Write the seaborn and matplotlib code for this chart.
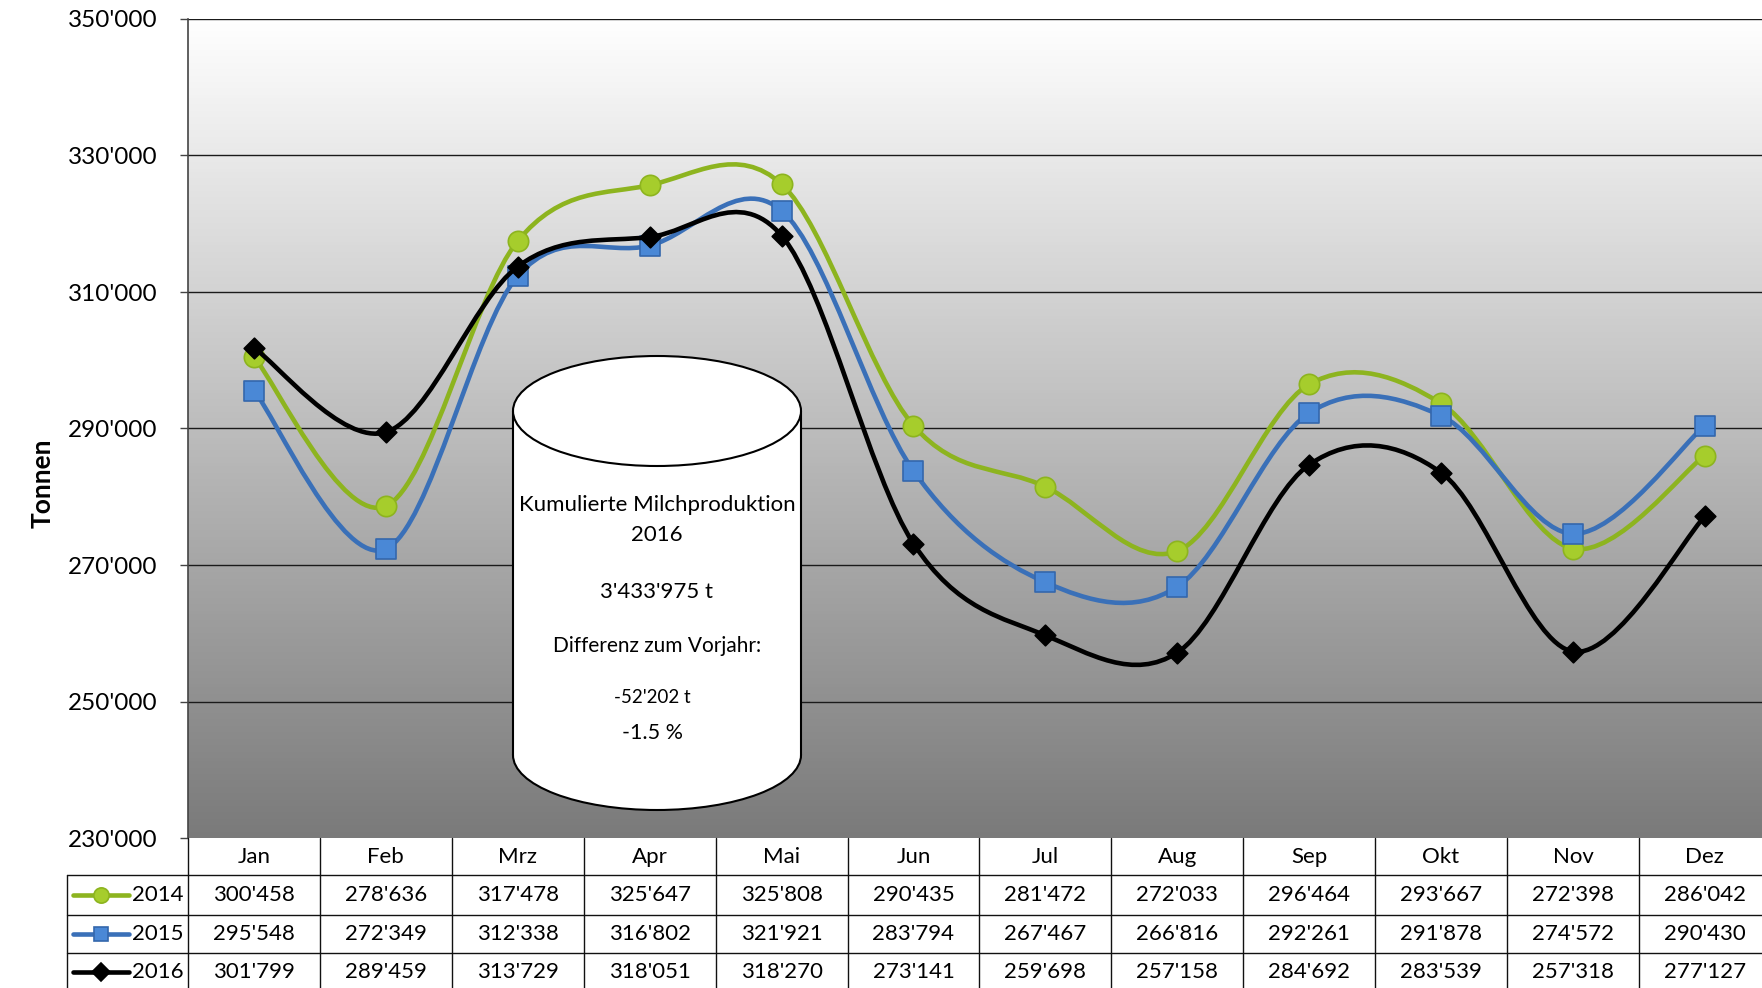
import numpy as np
import pandas as pd
import matplotlib.pyplot as plt
import seaborn as sns
from matplotlib.path import Path
from matplotlib.patches import PathPatch, Ellipse, Rectangle
from matplotlib.colors import LinearSegmentedColormap
from matplotlib.ticker import FuncFormatter

# Daten: Milchproduktion pro Monat (Tonnen)
monate = ['Jan', 'Feb', 'Mrz', 'Apr', 'Mai', 'Jun', 'Jul', 'Aug', 'Sep', 'Okt', 'Nov', 'Dez']
jahre = ['2014', '2015', '2016']
werte_2014 = [300458, 278636, 317478, 325647, 325808, 290435, 281472, 272033, 296464, 293667, 272398, 286042]
werte_2015 = [295548, 272349, 312338, 316802, 321921, 283794, 267467, 266816, 292261, 291878, 274572, 290430]
werte_2016 = [301799, 289459, 313729, 318051, 318270, 273141, 259698, 257158, 284692, 283539, 257318, 277127]
y_ticks = [230000, 250000, 270000, 290000, 310000, 330000, 350000]

box_zeilen = ['Kumulierte Milchproduktion', '2016', "3'433'975 t", 'Differenz zum Vorjahr:', "-52'202 t", '-1.5 %']

df = pd.DataFrame({
    'Monat': monate * 3,
    'pos': list(range(12)) * 3,
    'Jahr': [j for j in jahre for _ in monate],
    'Wert': werte_2014 + werte_2015 + werte_2016,
})

sns.set_theme(style='white')
plt.rcParams['font.family'] = ['Lato', 'DejaVu Sans']

def fmt(v):
    return f"{int(v):,}".replace(',', "'")

# Stil pro Jahr: Linie, Markerfüllung, Markerrand, Marker, Grösse
stil = {
    '2014': dict(line='#8DB41F', fill='#A6CD2C', edge='#8DB41F', marker='o', s=215, ms=11),
    '2015': dict(line='#3A70B8', fill='#4A88D6', edge='#3467AC', marker='s', s=190, ms=10.5),
    '2016': dict(line='#000000', fill='#000000', edge='#000000', marker='D', s=110, ms=9),
}

W, H = 1762, 988
L, COL_W, TOP, BOT = 188, 131.9, 19, 838

fig = plt.figure(figsize=(W / 100, H / 100), dpi=100)
ax = fig.add_axes([L / W, (H - BOT) / H, 12 * COL_W / W, (BOT - TOP) / H])

# Hintergrund mit Verlauf weiss -> grau
grau = LinearSegmentedColormap.from_list('g', ['#ffffff', '#7a7a7a'])
ax.imshow(np.linspace(0, 1, 256).reshape(-1, 1), cmap=grau, aspect='auto',
          extent=(-0.5, 11.5, y_ticks[0], y_ticks[-1]), zorder=0)

ax.set_xlim(-0.5, 11.5)
ax.set_ylim(y_ticks[0], y_ticks[-1])
ax.set_yticks(y_ticks)
ax.yaxis.set_major_formatter(FuncFormatter(lambda v, p: fmt(v)))
ax.set_xticks([])
for yt in y_ticks[1:]:
    ax.axhline(yt, color='#1a1a1a', lw=1.0, zorder=1)
ax.tick_params(axis='y', left=True, length=6, width=1, color='#444444', pad=16,
               labelsize=17.5, labelcolor='#000000')
for side in ['right', 'bottom', 'top']:
    ax.spines[side].set_visible(False)
ax.spines['left'].set_color('#444444')
ax.spines['left'].set_linewidth(1.2)


def glatter_pfad(x, y):
    # Bezier-Glättung durch die Datenpunkte (Catmull-Rom)
    p = np.column_stack([x, y]).astype(float)
    n = len(p)
    verts = [p[0]]
    codes = [Path.MOVETO]
    for i in range(n - 1):
        p0 = p[i - 1] if i > 0 else p[i]
        p1, p2 = p[i], p[i + 1]
        p3 = p[i + 2] if i + 2 < n else p[i + 1]
        verts += [p1 + (p2 - p0) / 6, p2 - (p3 - p1) / 6, p2]
        codes += [Path.CURVE4] * 3
    return Path(verts, codes)


z = 3
for jahr in jahre:
    st = stil[jahr]
    d = df[df['Jahr'] == jahr]
    ax.add_patch(PathPatch(glatter_pfad(d['pos'], d['Wert']), facecolor='none',
                           edgecolor=st['line'], lw=3.3, capstyle='round',
                           joinstyle='round', zorder=z))
    sns.scatterplot(data=d, x='pos', y='Wert', marker=st['marker'], s=st['s'],
                    color=st['fill'], edgecolor=st['edge'], linewidth=1.2,
                    ax=ax, zorder=z + 1, legend=False)
    z += 2
ax.set_xlabel('')
ax.set_ylabel('')

fig.text(43 / W, 1 - 483 / H, 'Tonnen', rotation=90, ha='center', va='center',
         fontsize=19, fontweight='bold', color='#000000')

# Overlay in Pixelkoordinaten: Tabelle und Zylinder
ov = fig.add_axes([0, 0, 1, 1], zorder=10)
ov.set_xlim(0, W)
ov.set_ylim(H, 0)
ov.axis('off')
ov.patch.set_alpha(0)

# Zylinder
cx, bw, eh = 657, 288, 110
y_top, y_bot = 411, 755
ov.add_patch(Ellipse((cx, y_bot), bw, eh, facecolor='white', edgecolor='black', lw=1.5, zorder=1))
ov.add_patch(Rectangle((cx - bw / 2, y_top), bw, y_bot - y_top, facecolor='white', edgecolor='none', zorder=2))
ov.plot([cx - bw / 2, cx - bw / 2], [y_top, y_bot], color='black', lw=1.5, zorder=3)
ov.plot([cx + bw / 2, cx + bw / 2], [y_top, y_bot], color='black', lw=1.5, zorder=3)
ov.add_patch(Ellipse((cx, y_top), bw, eh, facecolor='white', edgecolor='black', lw=1.5, zorder=4))
box_y = [505, 535, 592, 646, 697, 733]
box_x = [cx, cx, cx, cx, cx - 5, cx - 5]
box_fs = [16, 16, 16, 15, 13.5, 15.5]
for t, yy, xx, fs in zip(box_zeilen, box_y, box_x, box_fs):
    ov.text(xx, yy, t, ha='center', va='center', fontsize=fs, color='#000000', zorder=5)

# Tabelle
row_lines = [838, 875, 915, 953, 991]
tbl_left = 67
lc = '#111111'
ov.plot([tbl_left, W], [row_lines[1]] * 2, color=lc, lw=1)
ov.plot([tbl_left, W], [row_lines[2]] * 2, color=lc, lw=1)
ov.plot([tbl_left, W], [row_lines[3]] * 2, color=lc, lw=1)
ov.plot([tbl_left, tbl_left], [row_lines[1], H], color=lc, lw=1)
for k in range(13):
    xk = L + COL_W * k
    ov.plot([xk, xk], [row_lines[0], H], color=lc, lw=1)

for i, m in enumerate(monate):
    ov.text(L + COL_W * (i + 0.5), (row_lines[0] + row_lines[1]) / 2, m,
            ha='center', va='center', fontsize=16, color='#000000')

for r, jahr in enumerate(jahre):
    st = stil[jahr]
    yc = (row_lines[r + 1] + row_lines[r + 2]) / 2
    ov.plot([73, 129], [yc, yc], color=st['line'], lw=3.3, solid_capstyle='round')
    ov.plot([101], [yc], marker=st['marker'], ms=st['ms'], color=st['fill'],
            markeredgecolor=st['edge'], markeredgewidth=1.2, lw=0)
    ov.text(132, yc, jahr, ha='left', va='center', fontsize=16, color='#000000')
    d = df[df['Jahr'] == jahr]
    for pos, wert in zip(d['pos'], d['Wert']):
        ov.text(L + COL_W * (pos + 0.5), yc, fmt(wert), ha='center', va='center',
                fontsize=16, color='#000000')

fig.savefig('out.png', dpi=100)
